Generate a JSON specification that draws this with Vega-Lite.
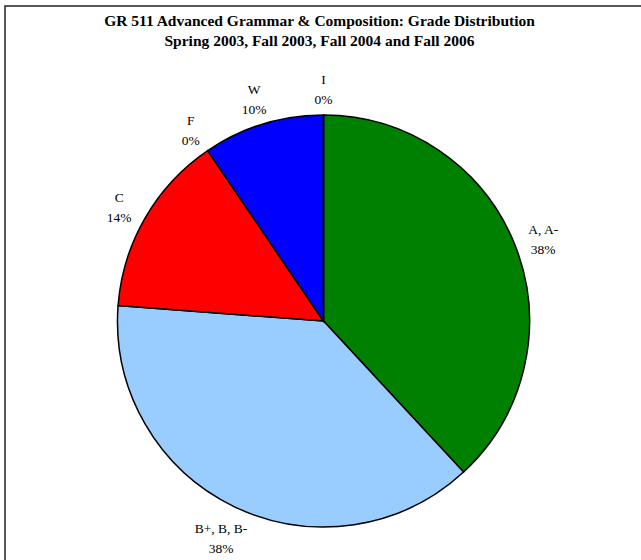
{
  "$schema": "https://vega.github.io/schema/vega-lite/v6.json",
  "width": 637,
  "height": 630,
  "autosize": {"type": "none"},
  "padding": {"left": 5, "top": 6, "right": 0, "bottom": 0},
  "background": "white",
  "view": {"stroke": "#222", "strokeWidth": 1.5, "fill": "white"},
  "title": {
    "text": ["GR 511 Advanced Grammar & Composition: Grade Distribution", "Spring 2003,  Fall 2003, Fall 2004 and Fall 2006"],
    "font": "Liberation Serif",
    "fontSize": 15.5,
    "fontWeight": "bold",
    "lineHeight": 20,
    "anchor": "middle",
    "offset": -43,
    "dx": -4,
    "color": "black"
  },
  "data": {
    "values": [
      {"grade": "A, A-", "share": 0.381, "order": 1},
      {"grade": "B+, B, B-", "share": 0.381, "order": 2},
      {"grade": "C", "share": 0.143, "order": 3},
      {"grade": "F", "share": 0, "order": 4},
      {"grade": "W", "share": 0.095, "order": 5},
      {"grade": "I", "share": 0, "order": 6}
    ]
  },
  "encoding": {
    "theta": {"field": "share", "type": "quantitative", "stack": true},
    "order": {"field": "order", "type": "quantitative"}
  },
  "layer": [
    {
      "mark": {"type": "arc", "radius": 206, "stroke": "black", "strokeWidth": 1.5},
      "encoding": {
        "color": {
          "field": "grade",
          "type": "nominal",
          "scale": {
            "domain": ["A, A-", "B+, B, B-", "C", "F", "W", "I"],
            "range": ["#008000", "#99CCFF", "#FF0000", "#FFFF00", "#0000FF", "#800080"]
          },
          "legend": null
        }
      }
    },
    {
      "mark": {"type": "text", "radius": 236, "dy": -5, "font": "Liberation Serif", "fontSize": 13.5, "color": "black"},
      "encoding": {"text": {"field": "grade", "type": "nominal"}}
    },
    {
      "mark": {"type": "text", "radius": 236, "dy": 15, "font": "Liberation Serif", "fontSize": 13.5, "color": "black"},
      "encoding": {"text": {"field": "share", "type": "quantitative", "format": ".0%"}}
    }
  ]
}
